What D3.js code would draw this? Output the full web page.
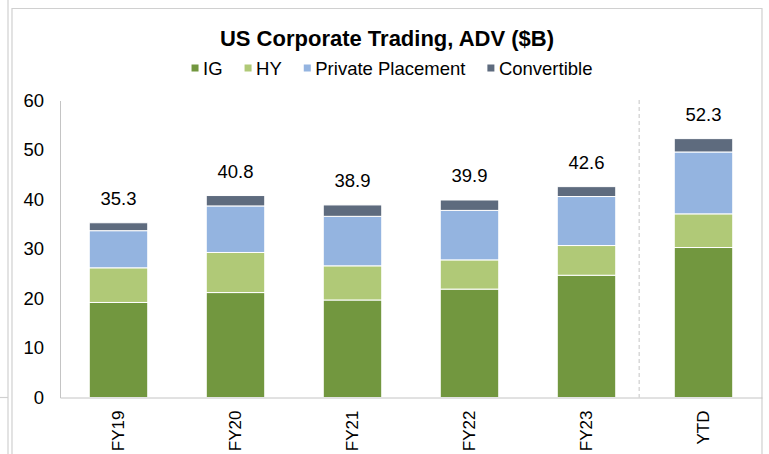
<!DOCTYPE html>
<html>
<head>
  <meta charset="utf-8">
  <script src="https://d3js.org/d3.v7.min.js"></script>
  <style>
    body { margin: 0; background: #fff; }
    text { font-family: "Liberation Sans", Arial, sans-serif; fill: #000; }
  </style>
</head>
<body>
  <svg width="769" height="454"></svg>

  <script>
    // chart data
    const categories = ["FY19", "FY20", "FY21", "FY22", "FY23", "YTD"];
    const seriesNames = ["IG", "HY", "Private Placement", "Convertible"];
    const igValues = [19.2, 21.2, 19.7, 21.9, 24.7, 30.3];
    const hyValues = [7.0, 8.1, 6.9, 5.9, 6.0, 6.8];
    const ppValues = [7.5, 9.4, 10.0, 10.0, 9.9, 12.5];
    const convValues = [1.6, 2.1, 2.3, 2.1, 2.0, 2.7];
    const totalLabels = ["35.3", "40.8", "38.9", "39.9", "42.6", "52.3"];
    const yTicks = [0, 10, 20, 30, 40, 50, 60];

    const colors = ["#72973f", "#b0c977", "#94b4e0", "#5e6b7e"];
    const frameColor = "#d0d0d0";
    const axisColor = "#c4c4c4";

    const svg = d3.select("svg");

    const rows = categories.map((c, i) => ({
      cat: c,
      "IG": igValues[i],
      "HY": hyValues[i],
      "Private Placement": ppValues[i],
      "Convertible": convValues[i],
      label: totalLabels[i]
    }));

    const x = d3.scaleBand()
      .domain(categories)
      .range([60, 762])
      .paddingInner(0.5)
      .paddingOuter(0.25);

    const y = d3.scaleLinear()
      .domain([0, 60])
      .range([397.5, 100.5]);

    // outer frame (screenshot borders)
    const frame = svg.append("g")
      .attr("stroke", frameColor)
      .attr("stroke-width", 1.2)
      .attr("fill", "none");
    frame.append("line").attr("x1", 8).attr("x2", 8).attr("y1", 0).attr("y2", 454);
    frame.append("line").attr("x1", 0).attr("x2", 8).attr("y1", 397.5).attr("y2", 397.5);
    frame.append("path").attr("d", "M12,454V8.5H762V454");

    // title
    svg.append("text")
      .attr("x", 387)
      .attr("y", 46)
      .attr("text-anchor", "middle")
      .style("font-size", "22px")
      .style("font-weight", "bold")
      .text("US Corporate Trading, ADV ($B)");

    // legend
    const legend = svg.append("g").attr("transform", "translate(0,75)");
    let lx = 0;
    const items = [];
    seriesNames.forEach((name, i) => {
      const g = legend.append("g");
      g.append("rect")
        .attr("x", 0).attr("y", -10.5)
        .attr("width", 7).attr("height", 7)
        .attr("fill", colors[i]);
      const t = g.append("text")
        .attr("x", 11.5)
        .style("font-size", "18.5px")
        .text(name);
      const w = t.node().getComputedTextLength();
      items.push({ g: g, x: lx });
      lx += 11.5 + w + 22;
    });
    const legendWidth = lx - 22;
    const lStart = 392 - legendWidth / 2;
    items.forEach(it => it.g.attr("transform", "translate(" + (lStart + it.x) + ",0)"));

    // y axis
    const yAxis = svg.append("g")
      .attr("transform", "translate(60,0)")
      .call(d3.axisLeft(y).tickValues(yTicks).tickSize(0).tickPadding(16));
    yAxis.select(".domain").attr("stroke", axisColor);
    yAxis.selectAll("text")
      .style("font-size", "18.5px")
      .style("font-family", "'Liberation Sans', Arial, sans-serif")
      .attr("fill", "#000");

    // stacked bars
    const stacked = d3.stack().keys(seriesNames)(rows);

    svg.append("g")
      .selectAll("g")
      .data(stacked)
      .join("g")
      .attr("fill", (d, i) => colors[i])
      .selectAll("rect")
      .data(d => d)
      .join("rect")
      .attr("x", d => x(d.data.cat))
      .attr("width", x.bandwidth())
      .attr("y", d => y(d[1]))
      .attr("height", d => y(d[0]) - y(d[1]))
      .attr("stroke", "#fff")
      .attr("stroke-width", 1);

    // x axis
    const xAxis = svg.append("g")
      .attr("transform", "translate(0,397.5)")
      .call(d3.axisBottom(x).tickSize(0).tickSizeOuter(0));
    xAxis.select(".domain").attr("stroke", axisColor);
    xAxis.selectAll("text")
      .style("font-size", "17px")
      .style("font-family", "'Liberation Sans', Arial, sans-serif")
      .attr("fill", "#000")
      .attr("text-anchor", "end")
      .attr("transform", "rotate(-90)")
      .attr("x", -13)
      .attr("y", 0)
      .attr("dy", "0.35em");

    // dashed separator before YTD
    const sepX = x("YTD") - x.step() * 0.3;
    svg.append("line")
      .attr("x1", sepX).attr("x2", sepX)
      .attr("y1", 100).attr("y2", 397.5)
      .attr("stroke", axisColor)
      .attr("stroke-width", 1)
      .attr("stroke-dasharray", "4,3");

    // total labels
    const topSeries = stacked[stacked.length - 1];
    svg.append("g")
      .selectAll("text")
      .data(topSeries)
      .join("text")
      .attr("x", d => x(d.data.cat) + x.bandwidth() / 2)
      .attr("y", d => y(d[1]) - 18)
      .attr("text-anchor", "middle")
      .style("font-size", "18.5px")
      .text(d => d.data.label);
  </script>
</body>
</html>
